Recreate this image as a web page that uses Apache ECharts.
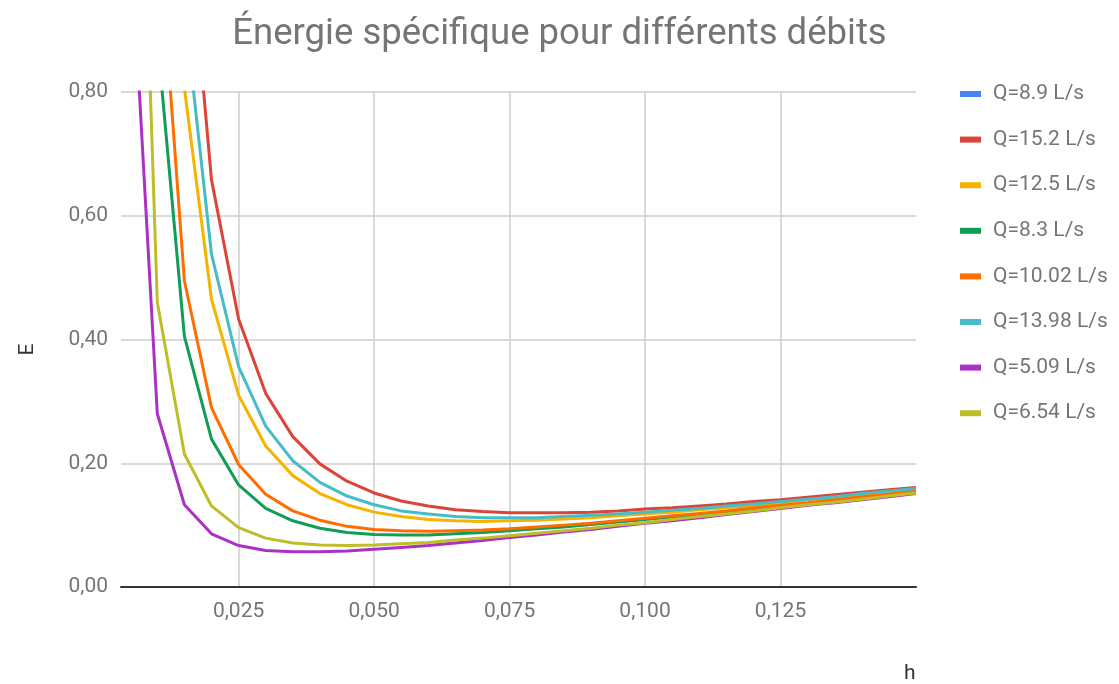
<!DOCTYPE html>
<html>
<head>
<meta charset="utf-8">
<style>
  html, body { margin: 0; padding: 0; background: #fff; }
  #chart { width: 1119px; height: 684px; }
</style>
<script src="https://cdn.jsdelivr.net/npm/echarts@6/dist/echarts.min.js"></script>
</head>
<body>
<div id="chart"></div>
<script>
// Water depth h (m)
const hValues = [0.005, 0.010, 0.015, 0.020, 0.025, 0.030, 0.035, 0.040, 0.045, 0.050,
                 0.055, 0.060, 0.065, 0.070, 0.075, 0.080, 0.085, 0.090, 0.095, 0.100,
                 0.105, 0.110, 0.115, 0.120, 0.125, 0.130, 0.135, 0.140, 0.145, 0.150];

// Specific energy E (m) for each discharge
const eQ8_9 = [];
const eQ15_2 = [10.205, 2.560, 1.148, 0.658, 0.433, 0.313, 0.243, 0.199, 0.171, 0.152,
                0.139, 0.131, 0.125, 0.122, 0.120, 0.120, 0.120, 0.121, 0.123, 0.126,
                0.128, 0.131, 0.134, 0.138, 0.141, 0.145, 0.149, 0.153, 0.157, 0.161];
const eQ12_5 = [7.125, 1.790, 0.806, 0.465, 0.310, 0.228, 0.180, 0.151, 0.133, 0.121,
                0.114, 0.109, 0.107, 0.106, 0.107, 0.108, 0.110, 0.112, 0.115, 0.118,
                0.121, 0.125, 0.128, 0.132, 0.136, 0.141, 0.145, 0.149, 0.153, 0.158];
const eQ8_3 = [3.513, 0.887, 0.405, 0.239, 0.165, 0.127, 0.107, 0.095, 0.088, 0.085,
               0.084, 0.084, 0.086, 0.088, 0.091, 0.094, 0.097, 0.101, 0.105, 0.109,
               0.113, 0.117, 0.122, 0.126, 0.131, 0.135, 0.140, 0.144, 0.149, 0.154];
const eQ10_02 = [4.325, 1.090, 0.495, 0.290, 0.198, 0.150, 0.123, 0.108, 0.098, 0.093,
                 0.091, 0.090, 0.091, 0.092, 0.094, 0.097, 0.100, 0.103, 0.107, 0.111,
                 0.115, 0.119, 0.123, 0.128, 0.132, 0.136, 0.141, 0.146, 0.150, 0.155];
const eQ13_98 = [8.285, 2.080, 0.935, 0.538, 0.356, 0.260, 0.204, 0.169, 0.147, 0.133,
                 0.123, 0.118, 0.114, 0.112, 0.112, 0.112, 0.114, 0.116, 0.118, 0.121,
                 0.124, 0.127, 0.131, 0.134, 0.138, 0.142, 0.146, 0.151, 0.155, 0.159];
const eQ5_09 = [1.065, 0.280, 0.133, 0.086, 0.067, 0.059, 0.057, 0.057, 0.058, 0.061,
                0.064, 0.067, 0.071, 0.075, 0.080, 0.084, 0.089, 0.093, 0.098, 0.103,
                0.107, 0.112, 0.117, 0.122, 0.127, 0.132, 0.136, 0.141, 0.146, 0.151];
const eQ6_54 = [1.785, 0.460, 0.215, 0.131, 0.096, 0.079, 0.071, 0.068, 0.067, 0.068,
                0.070, 0.072, 0.076, 0.079, 0.083, 0.087, 0.091, 0.095, 0.100, 0.104,
                0.109, 0.114, 0.118, 0.123, 0.128, 0.133, 0.137, 0.142, 0.147, 0.152];

const seriesNames = ['Q=8.9 L/s', 'Q=15.2 L/s', 'Q=12.5 L/s', 'Q=8.3 L/s',
                     'Q=10.02 L/s', 'Q=13.98 L/s', 'Q=5.09 L/s', 'Q=6.54 L/s'];
const seriesValues = [eQ8_9, eQ15_2, eQ12_5, eQ8_3, eQ10_02, eQ13_98, eQ5_09, eQ6_54];
const seriesColors = ['#4285F4', '#DB4437', '#F4B400', '#0F9D58',
                      '#FF6D01', '#46BDC6', '#AB30C4', '#BFBE2A'];

const xTicks = [0.025, 0.050, 0.075, 0.100, 0.125];

const textColor = '#757575';
const fontFamily = 'Roboto, "Noto Sans", sans-serif';

const chart = echarts.init(document.getElementById('chart'), null, { renderer: 'canvas' });

const series = seriesNames.map((name, i) => ({
  name: name,
  type: 'line',
  data: seriesValues[i].map((e, k) => [hValues[k], e]),
  showSymbol: false,
  symbol: 'none',
  smooth: false,
  clip: true,
  lineStyle: { width: 3, color: seriesColors[i] },
  itemStyle: { color: seriesColors[i] },
  emphasis: { disabled: true }
}));

chart.setOption({
  animation: false,
  backgroundColor: '#ffffff',
  textStyle: { fontFamily: fontFamily },
  title: {
    text: 'Énergie spécifique pour différents débits',
    left: 'center',
    top: 11,
    textStyle: { fontFamily: fontFamily, fontSize: 36.5, fontWeight: 'normal', color: textColor }
  },
  legend: {
    orient: 'vertical',
    left: 955,
    top: 78,
    icon: 'rect',
    itemWidth: 21,
    itemHeight: 6,
    itemGap: 23.6,
    data: seriesNames,
    textStyle: {
      fontFamily: fontFamily,
      fontSize: 21,
      color: textColor,
      lineHeight: 22,
      padding: [0, 0, 0, 7]
    }
  },
  grid: { left: 121, right: 203, top: 92, bottom: 96, containLabel: false },
  xAxis: {
    type: 'value',
    min: 0.0033,
    max: 0.15,
    name: 'h',
    nameLocation: 'end',
    nameGap: -12,
    nameTextStyle: {
      fontFamily: fontFamily,
      fontSize: 21,
      color: '#333',
      verticalAlign: 'top',
      padding: [76, 0, 0, 0]
    },
    axisLine: { show: true, onZero: false, lineStyle: { color: '#333', width: 2 } },
    axisTick: { show: false, customValues: xTicks },
    axisLabel: {
      customValues: xTicks,
      margin: 14,
      fontFamily: fontFamily,
      fontSize: 21,
      color: textColor,
      formatter: v => v.toFixed(3).replace('.', ',')
    },
    splitLine: { show: true, lineStyle: { color: '#cccccc', width: 1.5 } }
  },
  yAxis: {
    type: 'value',
    min: 0,
    max: 0.8,
    interval: 0.2,
    name: 'E',
    nameLocation: 'middle',
    nameGap: 83,
    nameTextStyle: { fontFamily: fontFamily, fontSize: 21, color: '#333', padding: [0, 20, 0, 0] },
    axisLine: { show: false },
    axisTick: { show: false },
    axisLabel: {
      margin: 13,
      fontFamily: fontFamily,
      fontSize: 21,
      color: textColor,
      formatter: v => v.toFixed(2).replace('.', ',')
    },
    splitLine: { show: true, lineStyle: { color: '#cccccc', width: 1.5 } }
  },
  series: series
});
</script>
</body>
</html>
